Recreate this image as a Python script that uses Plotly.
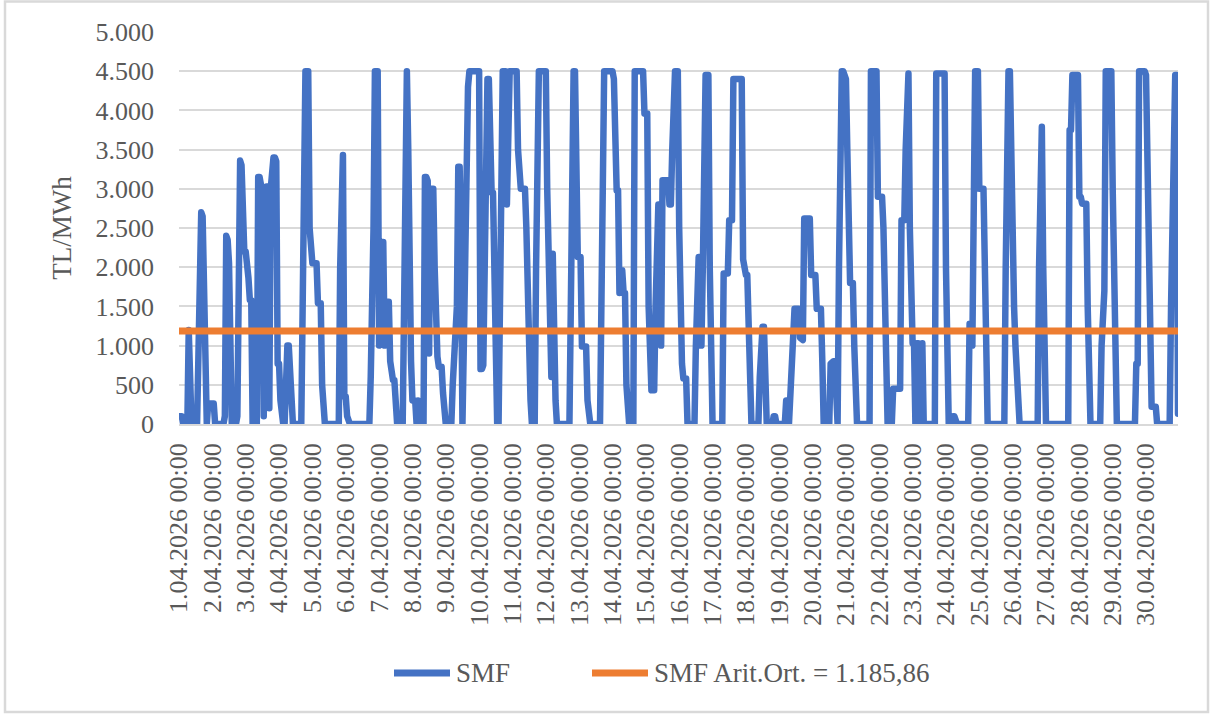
import plotly.graph_objects as go

# Hourly SMF values (TL/MWh), April 2026, one row of 24 values per day
days_01_06 = [
    100, 100, 100, 0, 0, 0, 0, 1200, 0, 0, 0, 0, 0, 0, 900, 1900, 2700, 2650, 2000, 1200, 0, 260, 260, 260,
    260, 260, 0, 0, 0, 0, 0, 0, 0, 100, 2400, 2350, 2050, 900, 0, 0, 0, 0, 100, 2800, 3360, 3300, 2200, 2200,
    2200, 1860, 1860, 1580, 1580, 0, 0, 0, 0, 3150, 3150, 3050, 2950, 100, 3000, 3030, 3030, 200, 3000, 3400, 3400, 3400, 3350, 770,
    770, 300, 0, 0, 0, 900, 1000, 1000, 500, 0, 0, 0, 0, 0, 0, 0, 0, 1500, 4500, 4500, 4500, 4500, 2500, 2050,
    2050, 2050, 2050, 2050, 1540, 1540, 1540, 500, 0, 0, 0, 0, 0, 0, 0, 0, 0, 0, 0, 0, 2000, 3430, 3430, 350,
    350, 100, 0, 0, 0, 0, 0, 0, 0, 0, 0, 0, 0, 0, 0, 0, 0, 0, 600, 1200, 2500, 4500, 4500, 4500,
]
days_07_12 = [
    1000, 2320, 2320, 2320, 1000, 1560, 1560, 1560, 800, 560, 560, 560, 100, 0, 100, 0, 0, 0, 2000, 4500, 4500, 3500, 1500, 800,
    300, 300, 300, 0, 300, 0, 0, 0, 0, 3150, 3150, 3100, 900, 3000, 3000, 3000, 2000, 860, 860, 730, 730, 730, 400, 0,
    0, 0, 0, 0, 0, 500, 1000, 1500, 1500, 3280, 3280, 2130, 0, 1000, 2500, 3500, 4300, 4500, 4500, 4500, 4500, 4500, 4500, 4500,
    4500, 700, 700, 750, 2000, 4400, 4400, 4400, 2950, 2950, 2950, 1500, 0, 0, 0, 1000, 3000, 4500, 4500, 4500, 2800, 4500, 4500, 4500,
    4500, 4500, 4500, 4500, 3500, 3000, 3000, 3000, 3000, 3000, 2500, 1500, 800, 300, 0, 0, 0, 2000, 4500, 4500, 4500, 4500, 4500, 4500,
    4500, 3000, 2170, 1000, 600, 2170, 600, 300, 0, 0, 0, 0, 0, 0, 0, 0, 0, 0, 1500, 4500, 4500, 4500, 2130, 2130,
]
days_13_18 = [
    2130, 2130, 990, 990, 990, 990, 300, 0, 0, 0, 0, 0, 0, 0, 0, 0, 1500, 4500, 4500, 4500, 4500, 4500, 4500, 4500,
    4500, 4400, 2980, 2980, 2980, 1670, 1960, 1960, 1670, 1670, 500, 0, 0, 0, 0, 0, 4500, 4500, 4500, 4500, 4500, 4500, 4500, 3960,
    3960, 3960, 1500, 430, 430, 430, 430, 1500, 2800, 2800, 2800, 1000, 3110, 3110, 3110, 3110, 3110, 2800, 2800, 3500, 4500, 4500, 4500, 4500,
    2500, 770, 770, 580, 580, 580, 0, 0, 0, 0, 0, 0, 1000, 2130, 2130, 2130, 1000, 2000, 3500, 4450, 4450, 4450, 2000, 0,
    0, 0, 0, 0, 0, 0, 0, 0, 1920, 1920, 1920, 1920, 2600, 2600, 2600, 4400, 4400, 4400, 4400, 4400, 4400, 4400, 2100, 1900,
    1900, 1900, 1000, 0, 0, 0, 0, 0, 0, 0, 600, 1240, 1240, 1240, 0, 0, 0, 0, 0, 0, 100, 100, 0, 0,
]
days_19_24 = [
    0, 0, 0, 0, 0, 300, 300, 0, 600, 1100, 1100, 1470, 1470, 1470, 1470, 1100, 1070, 1070, 2620, 2620, 2620, 2620, 2620, 1900,
    1900, 1900, 1900, 1470, 1470, 1470, 1470, 800, 0, 100, 0, 0, 0, 770, 800, 800, 800, 0, 0, 2000, 4500, 4500, 4500, 4400,
    4400, 3500, 2500, 1800, 1800, 1800, 1000, 0, 0, 0, 0, 0, 0, 0, 0, 0, 0, 0, 4500, 4500, 4500, 4500, 4500, 2900,
    2900, 2900, 2900, 2500, 1500, 800, 0, 0, 0, 0, 450, 450, 450, 450, 450, 450, 2600, 2600, 2600, 3500, 4470, 4470, 2500, 1030,
    1030, 1030, 0, 1030, 1030, 0, 1030, 1030, 0, 0, 0, 0, 0, 0, 0, 0, 0, 4470, 4470, 4470, 4470, 4470, 4470, 4470,
    2000, 0, 0, 0, 100, 100, 100, 0, 0, 0, 0, 0, 0, 0, 0, 0, 0, 1280, 1280, 1000, 4500, 4500, 4500, 4500,
]
days_25_30 = [
    3000, 3000, 3000, 3000, 2000, 800, 0, 0, 0, 0, 0, 0, 0, 0, 0, 0, 0, 0, 0, 2000, 4500, 4500, 4500, 3000,
    2000, 1500, 1000, 500, 0, 0, 0, 0, 0, 0, 0, 0, 0, 0, 0, 0, 0, 0, 0, 2000, 3790, 3790, 2000, 0,
    0, 0, 0, 0, 0, 0, 0, 0, 0, 0, 0, 0, 0, 0, 0, 0, 0, 3750, 3750, 4450, 4450, 4450, 4450, 4450,
    2900, 2900, 2810, 2810, 2810, 2810, 1500, 0, 0, 0, 0, 0, 0, 0, 0, 0, 1000, 1700, 1700, 4500, 4500, 4500, 4500, 4500,
    3000, 1500, 0, 0, 0, 0, 0, 0, 0, 0, 0, 0, 0, 0, 0, 0, 0, 770, 770, 4500, 4500, 4500, 4500, 4500,
    4450, 3000, 1500, 500, 220, 220, 220, 220, 0, 0, 0, 0, 0, 0, 0, 0, 0, 0, 1500, 3000, 4450, 4450, 4450, 130,
]

smf_mean = 1185.86
day_labels = [f"{d}.04.2026 00:00" for d in range(1, 31)]
series_names = ["SMF", "SMF Arit.Ort. = 1.185,86"]

smf = days_01_06 + days_07_12 + days_13_18 + days_19_24 + days_25_30
hours = list(range(len(smf)))

BLUE = "#4472C4"
ORANGE = "#ED7D31"
GRID = "#D9D9D9"
TXT = "#595959"
FONT = "Liberation Serif"

fig = go.Figure()
fig.add_trace(go.Scatter(x=hours, y=smf, mode="lines", name=series_names[0],
                         line=dict(color=BLUE, width=6.5), showlegend=False))
fig.add_trace(go.Scatter(x=[hours[0], hours[-1]], y=[smf_mean, smf_mean], mode="lines",
                         name=series_names[1], line=dict(color=ORANGE, width=7), showlegend=False))

L, R, T, B = 179, 1178, 32, 424
W, H = 1214, 717
pw, ph = R - L, B - T

def px(x):
    return (x - L) / pw

def py(y):
    return (B - y) / ph

# outer chart border
fig.add_shape(type="rect", xref="paper", yref="paper",
              x0=px(5), x1=px(1208), y0=py(1.5), y1=py(712),
              line=dict(color=GRID, width=2.5), fillcolor="rgba(0,0,0,0)", layer="below")

# manual legend
leg_y = 673
fig.add_shape(type="line", xref="paper", yref="paper", x0=px(394), x1=px(450), y0=py(leg_y), y1=py(leg_y),
              line=dict(color=BLUE, width=7))
fig.add_shape(type="line", xref="paper", yref="paper", x0=px(592), x1=px(648), y0=py(leg_y), y1=py(leg_y),
              line=dict(color=ORANGE, width=7))
fig.add_annotation(xref="paper", yref="paper", x=px(454), y=py(leg_y), text=series_names[0],
                   showarrow=False, xanchor="left", yanchor="middle",
                   font=dict(family=FONT, size=27, color=TXT))
fig.add_annotation(xref="paper", yref="paper", x=px(652), y=py(leg_y), text=series_names[1],
                   showarrow=False, xanchor="left", yanchor="middle",
                   font=dict(family=FONT, size=27, color=TXT))

fig.update_layout(
    width=W, height=H,
    margin=dict(l=L, r=W - R, t=T, b=H - B),
    paper_bgcolor="white", plot_bgcolor="white",
    separators=",.",
    showlegend=False,
    font=dict(family=FONT, color=TXT),
    xaxis=dict(range=[0, 719], tickmode="array", tickvals=[24 * i for i in range(30)],
               ticktext=day_labels, tickangle=-90, showgrid=False, zeroline=False,
               showline=True, linecolor=GRID, linewidth=1.5, ticks="",
               tickfont=dict(family=FONT, size=26, color=TXT), ticklabelstandoff=7),
    yaxis=dict(range=[0, 5000], dtick=500, tick0=0, tickformat=",.0f",
               showgrid=True, gridcolor=GRID, gridwidth=1.5, zeroline=False, ticks="",
               tickfont=dict(family=FONT, size=26, color=TXT), ticklabelstandoff=24,
               title=dict(text="TL/MWh", standoff=16, font=dict(family=FONT, size=27, color=TXT))),
)

post = ("document.body.style.margin='0';"
        "document.querySelectorAll('.js-line').forEach(function(p){"
        "p.style.strokeLinejoin='round';p.style.strokeLinecap='round';});")
fig.write_html("out.html", post_script=post, config={"displayModeBar": False})
